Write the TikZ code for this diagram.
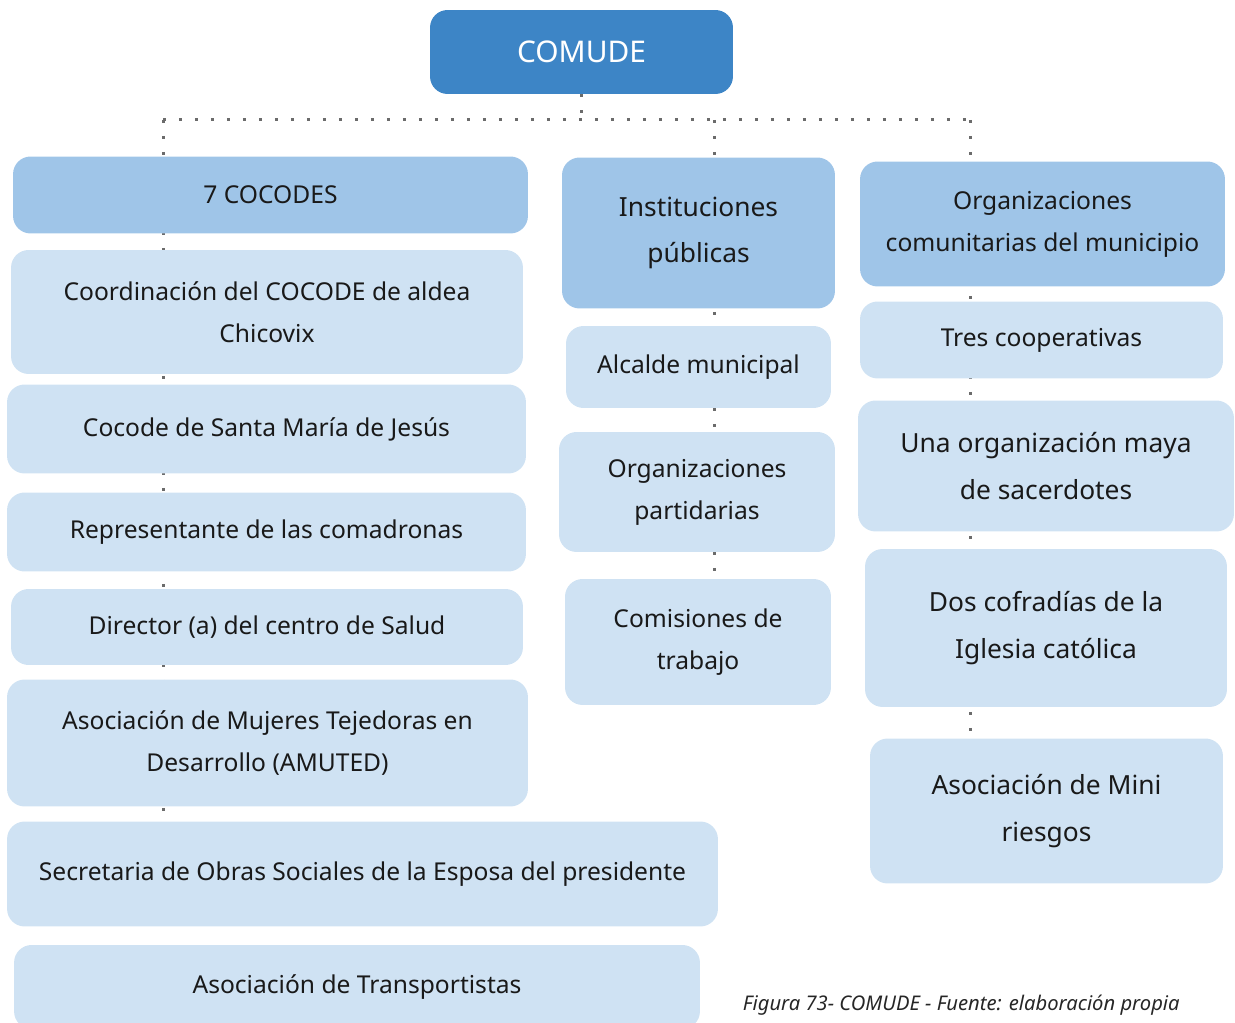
\documentclass[tikz,border=0pt]{standalone}
\usepackage{fontspec}
\setmainfont{Noto Sans}
\usetikzlibrary{positioning,backgrounds}

\begin{document}
\begin{tikzpicture}[x=0.02cm, y=-0.02cm,
  % ---- colours ---------------------------------------------------------
  /utils/exec={%
    \definecolor{orgdark} {HTML}{3D85C6}%
    \definecolor{orgmid}  {HTML}{9FC5E8}%
    \definecolor{orglight}{HTML}{CFE2F3}%
    \definecolor{orgdots} {HTML}{6B6B6B}%
  },
  % ---- one style per box kind ------------------------------------------
  box/.style={
    rounded corners=10pt, fill=#1, draw=none, align=center, inner sep=4pt,
    text=black!90, font=\fontsize{14}{24}\selectfont
  },
  big/.style={font=\fontsize{15}{26.7}\selectfont},
  link/.style={draw=orgdots, line width=0.06cm, dash pattern=on 0.06cm off 0.26cm},
]
\useasboundingbox (0,0) rectangle (1235,1023);
\clip (0,0) rectangle (1235,1023);

% =====================================================================
%  TOP
% =====================================================================
\node[box=orgdark, text=white, font=\fontsize{17}{20}\selectfont,
      minimum width=6.06cm, minimum height=1.68cm] (comude) at (581.5,52) {COMUDE};

\coordinate (hub) at (581,120);
\coordinate (lx)  at (163,120);
\coordinate (mx)  at (714,120);
\coordinate (rx)  at (970,120);

% =====================================================================
%  LEFT COLUMN : 7 COCODES
% =====================================================================
\node[box=orgmid,   minimum width=10.30cm, minimum height=1.54cm] (cocodes)    at (270.5,195) {7 COCODES};
\node[box=orglight, minimum width=10.24cm, minimum height=2.48cm] (chicovix)   at (267,312)   {Coordinación del COCODE de aldea\\Chicovix};
\node[box=orglight, minimum width=10.38cm, minimum height=1.78cm] (santamaria) at (266.5,429) {Cocode de Santa María de Jesús};
\node[box=orglight, minimum width=10.38cm, minimum height=1.58cm] (comadronas) at (266.5,532) {Representante de las comadronas};
\node[box=orglight, minimum width=10.24cm, minimum height=1.52cm] (salud)      at (267,627)   {Director (a) del centro de Salud};
\node[box=orglight, minimum width=10.42cm, minimum height=2.54cm] (amuted)     at (267.5,743) {Asociación de Mujeres Tejedoras en\\Desarrollo (AMUTED)};
\node[box=orglight, minimum width=14.22cm, minimum height=2.10cm] (sosep)      at (362.5,874) {Secretaria de Obras Sociales de la Esposa del presidente};
\node[box=orglight, minimum width=13.72cm, minimum height=1.68cm] (transp)     at (357,987)   {Asociación de Transportistas};

% =====================================================================
%  MIDDLE COLUMN : public institutions
% =====================================================================
\node[box=orgmid, big, minimum width=5.46cm, minimum height=3.02cm] (instit)  at (698.5,233) {Instituciones\\públicas};
\node[box=orglight, minimum width=5.30cm, minimum height=1.64cm]   (alcalde) at (698.5,367)   {Alcalde municipal};
\node[box=orglight, minimum width=5.52cm, minimum height=2.40cm]   (partid)  at (697,492)     {Organizaciones\\partidarias};
\node[box=orglight, minimum width=5.32cm, minimum height=2.52cm]   (comis)   at (698,642)     {Comisiones de\\trabajo};

% =====================================================================
%  RIGHT COLUMN : community organisations
% =====================================================================
\node[box=orgmid,   minimum width=7.30cm, minimum height=2.50cm] (orgcom) at (1042.5,224) {Organizaciones\\comunitarias del municipio};
\node[box=orglight, minimum width=7.26cm, minimum height=1.54cm] (coop)   at (1041.5,340) {Tres cooperativas};
\node[box=orglight, big, minimum width=7.52cm, minimum height=2.62cm] (maya)   at (1046,466)  {Una organización maya\\de sacerdotes};
\node[box=orglight, big, minimum width=7.24cm, minimum height=3.16cm] (cofrad) at (1046,628)  {Dos cofradías de la\\Iglesia católica};
\node[box=orglight, big, minimum width=7.06cm, minimum height=2.90cm] (mini)   at (1046.5,811) {Asociación de Mini\\riesgos};

% caption
\node[anchor=base east, font=\itshape\fontsize{11.5}{14}\selectfont, text=black!85, inner sep=0pt]
  (caption) at (1180,1010) {Figura 73- COMUDE - Fuente: elaboración propia};

% =====================================================================
%  DOTTED LINKS, behind the boxes
% =====================================================================
\begin{scope}[on background layer]
\draw[link] (comude.south) -- (comude.south |- hub);
\draw[link] (lx) -- (rx);
\draw[link] (lx) -- (lx |- sosep.north);
\draw[link] (mx) -- (mx |- comis.north);
\draw[link] (rx) -- (rx |- mini.north);
\end{scope}

\end{tikzpicture}
\end{document}
